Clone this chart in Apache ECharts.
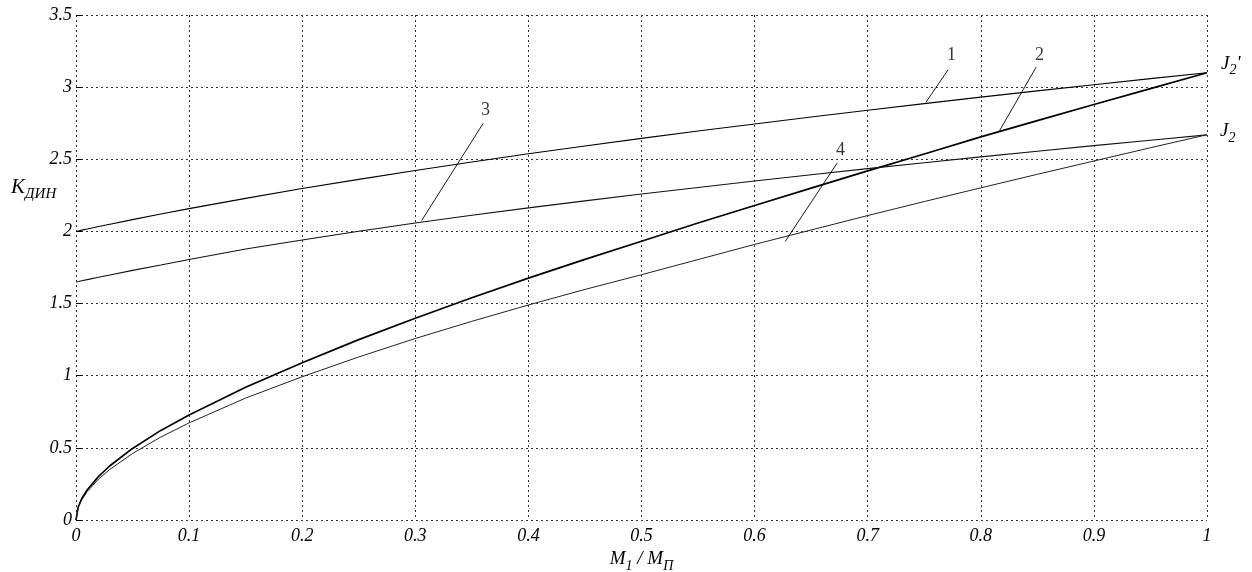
<!DOCTYPE html>
<html>
<head>
<meta charset="utf-8">
<script src="https://cdn.jsdelivr.net/npm/echarts@6/dist/echarts.min.js"></script>
<style>
  html, body { margin: 0; padding: 0; background: #fff; }
  #chart { width: 1252px; height: 572px; }
</style>
</head>
<body>
<div id="chart"></div>
<script>
// M1 / MП
const xs = [0, 0.002, 0.005, 0.01, 0.02, 0.03, 0.05, 0.075, 0.1, 0.15, 0.2, 0.25, 0.3, 0.35, 0.4,
  0.45, 0.5, 0.55, 0.6, 0.65, 0.7, 0.75, 0.8, 0.85, 0.9, 0.95, 1];

// K_дин
const curve1 = [2.0, 2.003, 2.009, 2.017, 2.034, 2.05, 2.082, 2.121, 2.158, 2.229, 2.297, 2.361, 2.422,
  2.481, 2.538, 2.592, 2.645, 2.696, 2.745, 2.793, 2.84, 2.886, 2.931, 2.974, 3.017, 3.059, 3.1];
const curve2 = [0, 0.092, 0.147, 0.21, 0.302, 0.376, 0.496, 0.621, 0.728, 0.92, 1.09, 1.25, 1.398,
  1.54, 1.676, 1.806, 1.932, 2.058, 2.18, 2.3, 2.42, 2.537, 2.655, 2.768, 2.88, 2.99, 3.1];
const curve3 = [1.65, 1.653, 1.658, 1.666, 1.682, 1.698, 1.73, 1.767, 1.805, 1.878, 1.941, 2.001, 2.058,
  2.112, 2.163, 2.212, 2.259, 2.305, 2.35, 2.393, 2.435, 2.476, 2.517, 2.556, 2.595, 2.632, 2.669];
const curve4 = [0, 0.087, 0.139, 0.198, 0.284, 0.351, 0.461, 0.575, 0.673, 0.845, 0.993, 1.13, 1.258,
  1.377, 1.49, 1.598, 1.7, 1.805, 1.91, 2.01, 2.11, 2.207, 2.302, 2.396, 2.488, 2.58, 2.67];

// callouts: leader start on the curve, leader end, label text position
const calloutText = ['1', '2', '3', '4'];
const leaderFrom = [[0.7515, 2.895], [0.816, 2.69], [0.3056, 2.075], [0.627, 1.93]];
const leaderTo = [[0.771, 3.12], [0.849, 3.14], [0.36, 2.749], [0.673, 2.474]];
const labelAt = [[0.774, 3.222], [0.852, 3.222], [0.362, 2.841], [0.676, 2.565]];

const xTicks = ['0', '0.1', '0.2', '0.3', '0.4', '0.5', '0.6', '0.7', '0.8', '0.9', '1'];
const yTicks = ['0', '0.5', '1', '1.5', '2', '2.5', '3', '3.5'];

const serif = '"Liberation Serif", "Times New Roman", serif';
const grid = { type: [2, 3], color: '#333', width: 1 };

const pairs = (ys) => xs.map((x, i) => [x, ys[i]]);

const subRich = {
  m: { fontFamily: serif, fontStyle: 'italic', fontSize: 19, lineHeight: 20, verticalAlign: 'top', color: '#000' },
  s: { fontFamily: serif, fontStyle: 'italic', fontSize: 14, lineHeight: 14, padding: [9, 0, 0, 0], verticalAlign: 'top', color: '#000' },
};

const chart = echarts.init(document.getElementById('chart'), null, { renderer: 'canvas' });

const option = {
  animation: false,
  grid: { left: 76, right: 45, top: 15, bottom: 52, containLabel: false, outerBoundsMode: 'none' },
  xAxis: {
    type: 'value', min: 0, max: 1, interval: 0.1,
    axisLine: { show: false },
    axisTick: { show: false },
    splitLine: { show: true, lineStyle: grid },
    axisLabel: {
      margin: 7, fontFamily: serif, fontStyle: 'italic', fontSize: 18, color: '#000',
      formatter: (v) => xTicks[Math.round(v * 10)],
    },
    name: '{m|M}{s|1}{m| / M}{s|П}',
    nameLocation: 'middle', nameGap: 28,
    nameTextStyle: { rich: subRich },
  },
  yAxis: {
    type: 'value', min: 0, max: 3.5, interval: 0.5,
    axisLine: { show: false },
    axisTick: { show: true, inside: true, length: 6, lineStyle: { color: '#000', width: 1 } },
    splitLine: { show: true, lineStyle: grid },
    axisLabel: {
      margin: 4, fontFamily: serif, fontStyle: 'italic', fontSize: 18, color: '#000',
      formatter: (v) => yTicks[Math.round(v * 2)],
    },
  },
  graphic: [{
    type: 'text', left: 11, top: 177,
    style: {
      text: '{m|K}{s|ДИН}',
      rich: {
        m: { fontFamily: serif, fontStyle: 'italic', fontSize: 21, lineHeight: 22, verticalAlign: 'top', fill: '#000' },
        s: { fontFamily: serif, fontStyle: 'italic', fontSize: 15, lineHeight: 15, padding: [10, 0, 0, 0], verticalAlign: 'top', fill: '#000' },
      },
    },
  }],
  series: [
    {
      name: '1', type: 'line', data: pairs(curve1), showSymbol: false,
      lineStyle: { color: '#000', width: 1.1 },
      endLabel: {
        show: true, formatter: '{m|J}{s|2}{m|\'}', distance: 14, offset: [0, -8],
        rich: subRich,
      },
      markLine: {
        silent: true, symbol: ['none', 'none'],
        lineStyle: { color: '#000', width: 0.9, type: 'solid' },
        label: { show: false },
        data: leaderFrom.map((p, i) => [{ coord: p }, { coord: leaderTo[i] }]),
      },
    },
    {
      name: '2', type: 'line', data: pairs(curve2), showSymbol: false,
      lineStyle: { color: '#000', width: 1.7 },
    },
    {
      name: '3', type: 'line', data: pairs(curve3), showSymbol: false,
      lineStyle: { color: '#111', width: 1.1 },
      endLabel: {
        show: true, formatter: '{m|J}{s|2}', distance: 13, offset: [0, -3],
        rich: subRich,
      },
    },
    {
      name: '4', type: 'line', data: pairs(curve4), showSymbol: false,
      lineStyle: { color: '#222', width: 1 },
    },
    {
      name: 'callouts', type: 'scatter', symbolSize: 0, silent: true,
      data: labelAt.map((p, i) => ({ value: p, name: calloutText[i] })),
      label: {
        show: true, position: 'inside', formatter: '{b}',
        fontFamily: serif, fontSize: 18, color: '#000',
      },
    },
  ],
};

chart.setOption(option);
</script>
</body>
</html>
